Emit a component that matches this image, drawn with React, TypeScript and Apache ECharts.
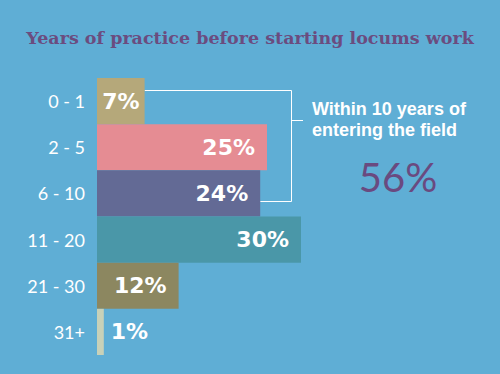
import React, { useEffect, useRef } from "react";
import * as echarts from "echarts";

const categories = ["0 - 1", "2 - 5", "6 - 10", "11 - 20", "21 - 30", "31+"];
const values = [7, 25, 24, 30, 12, 1];
const colors = ["#b5a87a", "#e58c93", "#636a95", "#4a97a8", "#8c8760", "#c8d1b8"];
const titleText = "Years of practice before starting locums work";
const calloutLines = ["Within 10 years of", "entering the field"];
const calloutValue = "56%";

export default function App() {
  const ref = useRef<HTMLDivElement>(null);
  useEffect(() => {
    if (!ref.current) return;
    const chart = echarts.init(ref.current, null, { renderer: "svg" });
    const data = values.map((v, i) => ({
      value: v,
      itemStyle: { color: colors[i] },
      label: {
        position: v < 3 ? "right" : "insideRight",
        distance: v < 3 ? 7 : v < 10 ? 5 : 12,
      },
    }));
    chart.setOption({
      animation: false,
      backgroundColor: "#5faed5",
      title: {
        text: titleText,
        left: "center",
        top: 24,
        textStyle: {
          color: "#6b4c7f",
          fontFamily: "DejaVu Serif",
          fontWeight: "bold",
          fontSize: 17.5,
        },
      },
      grid: { left: 97, right: 63, top: 78, bottom: 19, containLabel: false },
      xAxis: {
        type: "value",
        min: 0,
        max: 50,
        show: false,
      },
      yAxis: {
        type: "category",
        data: categories,
        inverse: true,
        axisLine: { show: false },
        axisTick: { show: false },
        axisLabel: {
          color: "#ffffff",
          fontFamily: "Lato",
          fontSize: 18,
          margin: 12,
        },
      },
      series: [
        {
          type: "bar",
          data,
          barCategoryGap: 0,
          barWidth: "100%",
          label: {
            show: true,
            color: "#ffffff",
            fontFamily: "DejaVu Sans",
            fontWeight: "bold",
            fontSize: 22,
            formatter: (p: any) => p.value + "%",
          },
        },
      ],
    });

    const xr0 = chart.convertToPixel({ xAxisIndex: 0 }, values[0]) as number;
    const xr2 = chart.convertToPixel({ xAxisIndex: 0 }, values[2]) as number;
    const y0 = chart.convertToPixel({ yAxisIndex: 0 }, categories[0]) as number;
    const y2 = chart.convertToPixel({ yAxisIndex: 0 }, categories[2]) as number;
    const yTop = Math.round(y0 - 11) + 0.5;
    const yBot = Math.round(y2 + 8) + 0.5;
    const xV = 291.5;
    const lineStyle = { stroke: "#ffffff", lineWidth: 1 };
    chart.setOption({
      graphic: [
        { type: "line", shape: { x1: xr0, y1: yTop, x2: xV, y2: yTop }, style: lineStyle },
        { type: "line", shape: { x1: xV, y1: yTop, x2: xV, y2: yBot }, style: lineStyle },
        { type: "line", shape: { x1: xr2, y1: yBot, x2: xV, y2: yBot }, style: lineStyle },
        { type: "line", shape: { x1: xV, y1: 120.5, x2: 303, y2: 120.5 }, style: lineStyle },
        ...calloutLines.map((t, i) => ({
          type: "text",
          x: 312,
          y: 109 + i * 21,
          style: {
            text: t,
            fill: "#ffffff",
            font: "bold 18px 'Liberation Sans'",
            verticalAlign: "middle",
          },
        })),
        {
          type: "text",
          x: 398,
          y: 177,
          style: {
            text: calloutValue,
            fill: "#6a4a80",
            font: "40px Lato",
            align: "center",
            verticalAlign: "middle",
          },
        },
      ],
    });
    return () => chart.dispose();
  }, []);
  return <div ref={ref} style={{ width: 500, height: 374, position: "absolute", left: 0, top: 0 }} />;
}
